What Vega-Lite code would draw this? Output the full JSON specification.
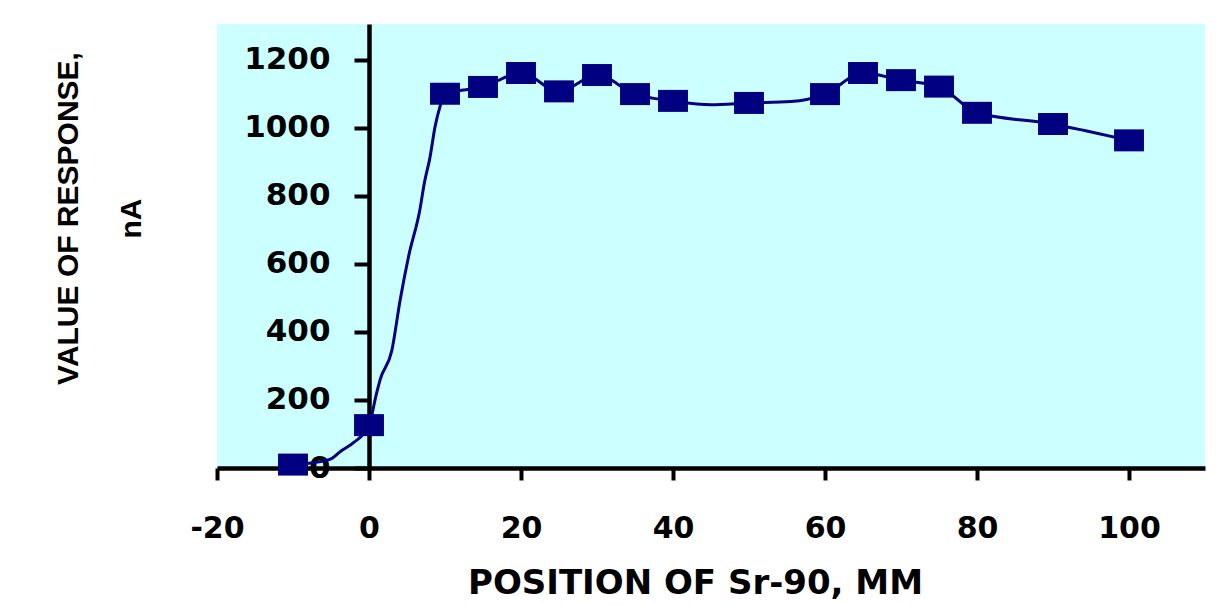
{
  "$schema": "https://vega.github.io/schema/vega-lite/v6.json",
  "width": 988,
  "height": 444,
  "autosize": {"type": "none"},
  "padding": {"left": 217, "top": 24, "right": 12, "bottom": 137},
  "background": "white",
  "config": {"view": {"fill": "#ccffff", "stroke": null}},
  "datasets": {
    "curve": [
      {"position": -10, "response": 10},
      {"position": -7, "response": 17},
      {"position": -5, "response": 27},
      {"position": -3.8, "response": 48},
      {"position": -2, "response": 75},
      {"position": 0, "response": 126},
      {"position": 1, "response": 220},
      {"position": 1.5, "response": 262},
      {"position": 3, "response": 345},
      {"position": 4.1, "response": 494},
      {"position": 5.2, "response": 621},
      {"position": 6.7, "response": 760},
      {"position": 7.3, "response": 840},
      {"position": 8, "response": 910},
      {"position": 8.7, "response": 1004},
      {"position": 9.35, "response": 1063},
      {"position": 10, "response": 1100},
      {"position": 15, "response": 1120},
      {"position": 20, "response": 1161},
      {"position": 25, "response": 1107},
      {"position": 30, "response": 1155},
      {"position": 35, "response": 1099},
      {"position": 40, "response": 1079},
      {"position": 45, "response": 1068},
      {"position": 50, "response": 1073},
      {"position": 55.5, "response": 1077},
      {"position": 60, "response": 1099},
      {"position": 65, "response": 1161},
      {"position": 70, "response": 1140},
      {"position": 75, "response": 1121},
      {"position": 80, "response": 1044},
      {"position": 90, "response": 1011},
      {"position": 94.3, "response": 991},
      {"position": 100, "response": 963}
    ],
    "markers": [
      {"position": -10, "response": 10},
      {"position": 0, "response": 126},
      {"position": 10, "response": 1100},
      {"position": 15, "response": 1120},
      {"position": 20, "response": 1161},
      {"position": 25, "response": 1107},
      {"position": 30, "response": 1155},
      {"position": 35, "response": 1099},
      {"position": 40, "response": 1079},
      {"position": 50, "response": 1073},
      {"position": 60, "response": 1099},
      {"position": 65, "response": 1161},
      {"position": 70, "response": 1140},
      {"position": 75, "response": 1121},
      {"position": 80, "response": 1044},
      {"position": 90, "response": 1011},
      {"position": 100, "response": 963}
    ]
  },
  "encoding": {
    "x": {
      "field": "position",
      "type": "quantitative",
      "scale": {"domain": [-20, 110], "nice": false, "zero": false},
      "axis": {
        "values": [-20, 0, 20, 40, 60, 80, 100],
        "labelExpr": "'' + datum.value",
        "grid": false,
        "domainColor": "black",
        "domainWidth": 4.5,
        "tickColor": "black",
        "tickWidth": 4,
        "tickSize": 12,
        "labelFont": "DejaVu Sans",
        "labelFontWeight": "bold",
        "labelFontSize": 30,
        "labelColor": "black",
        "labelPadding": 33,
        "labelBaseline": "top",
        "labelFlush": false,
        "labelOverlap": false,
        "title": "POSITION OF Sr-90, MM",
        "titleFont": "DejaVu Sans",
        "titleFontWeight": "bold",
        "titleFontSize": 34,
        "titleColor": "black",
        "titleX": 478,
        "titleY": 125,
        "titleAlign": "center",
        "titleBaseline": "alphabetic"
      }
    },
    "y": {
      "field": "response",
      "type": "quantitative",
      "scale": {"domain": [0, 1305], "nice": false},
      "axis": {
        "orient": "left",
        "offset": -152,
        "values": [0, 200, 400, 600, 800, 1000, 1200],
        "labelExpr": "'' + datum.value",
        "grid": false,
        "domainColor": "black",
        "domainWidth": 4.5,
        "tickColor": "black",
        "tickWidth": 4,
        "tickSize": 15,
        "labelFont": "DejaVu Sans",
        "labelFontWeight": "bold",
        "labelFontSize": 31,
        "labelColor": "black",
        "labelPadding": 24,
        "labelFlush": false,
        "labelOverlap": false,
        "title": ["VALUE OF RESPONSE,", "nA"],
        "titleFont": "Liberation Sans",
        "titleFontWeight": "bold",
        "titleFontSize": 30,
        "titleColor": "black",
        "titleLineHeight": 63,
        "titleAngle": 270,
        "titleX": -292,
        "titleY": 194,
        "titleAlign": "center",
        "titleBaseline": "alphabetic"
      }
    }
  },
  "layer": [
    {
      "data": {"name": "curve"},
      "mark": {"type": "line", "interpolate": "monotone", "color": "#000080", "strokeWidth": 3}
    },
    {
      "data": {"name": "markers"},
      "mark": {"type": "point", "shape": "M-1.36,-1H1.36V1H-1.36Z", "filled": true, "color": "#000080", "opacity": 1, "size": 484}
    }
  ]
}
